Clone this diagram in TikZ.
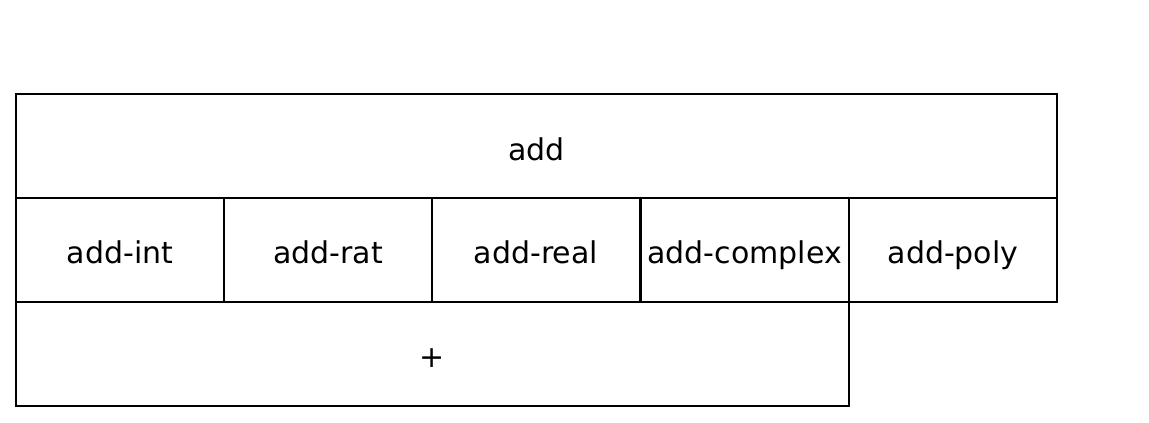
\documentclass[tikz,border=0pt]{standalone}
\usepackage{fontspec}
\setmainfont{DejaVu Sans}

\begin{document}
\begin{tikzpicture}[x=0.75pt,y=0.75pt,
        cell/.style={draw,line width=1.5pt,inner sep=0pt,minimum height=78pt,
                     text height=21pt,text depth=0pt,
                     font=\fontsize{22.5}{26}\selectfont}]
        \useasboundingbox (0,0) rectangle (1149,-423);

        \node[cell,minimum width=780.75pt](add) at (536.5,-146.5){add};

        \node[cell,minimum width=156pt](int) at (120,-250){add-int};
        \node[cell,minimum width=156pt](rat) at (328,-250){add-rat};
        \node[cell,minimum width=156pt](real) at (536,-250){add-real};
        \node[cell,minimum width=156pt](complex) at (744.5,-250){add-complex};
        \node[cell,minimum width=156pt](poly) at (953,-250){add-poly};

        \node[cell,minimum width=624.75pt](plus) at (432.5,-354){+};
    \end{tikzpicture}
\end{document}
